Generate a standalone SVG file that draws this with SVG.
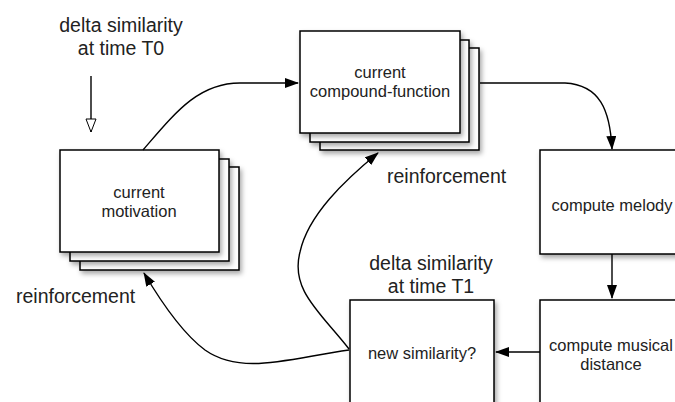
<svg xmlns="http://www.w3.org/2000/svg" width="675" height="402" viewBox="0 0 675 402">
<defs>
<filter id="sh" x="-20%" y="-20%" width="150%" height="150%">
<feDropShadow dx="2" dy="3" stdDeviation="2.5" flood-color="#000" flood-opacity="0.35"/>
</filter>
<marker id="ah" viewBox="0 0 14 10" refX="13" refY="5" markerWidth="14" markerHeight="10" markerUnits="userSpaceOnUse" orient="auto">
<path d="M0,0 L14,5 L0,10 Z" fill="#000"/>
</marker>
<marker id="oh" viewBox="0 0 12 15" refX="6" refY="14" markerWidth="12" markerHeight="15" markerUnits="userSpaceOnUse" orient="0">
<path d="M1,1 L11,1 L6,14 Z" fill="#fff" stroke="#000" stroke-width="1"/>
</marker>
</defs>
<style>
.box{fill:#fff;stroke:#000;stroke-width:1.5;filter:url(#sh)}
.t{font-family:"Liberation Sans",Arial,Helvetica,sans-serif;font-size:16.5px;fill:#222;text-anchor:middle}
.lbl{font-family:"Liberation Sans",Arial,Helvetica,sans-serif;font-size:19.5px;fill:#222}
.c{fill:none;stroke:#000;stroke-width:1.4}
</style>
<rect width="675" height="402" fill="#fff"/>

<g id="label-t0">
<text class="lbl" x="121" y="32" text-anchor="middle">delta similarity</text>
<text class="lbl" x="121" y="55" text-anchor="middle">at time T0</text>
</g>

<g id="motivation">
<rect class="box" x="80" y="167" width="159" height="103"/>
<rect class="box" x="70" y="159" width="159" height="102"/>
<rect class="box" x="60" y="150" width="159" height="102"/>
<text class="t" x="139" y="198">current</text>
<text class="t" x="139" y="217">motivation</text>
</g>

<g id="compound">
<rect class="box" x="320" y="48" width="159" height="102"/>
<rect class="box" x="310" y="40" width="159" height="102"/>
<rect class="box" x="300" y="31" width="160" height="102"/>
<text class="t" x="380" y="78">current</text>
<text class="t" x="380" y="97">compound-function</text>
</g>

<g id="melody">
<rect class="box" x="540" y="150" width="150" height="104"/>
<text class="t" x="612" y="211">compute melody</text>
</g>

<g id="distance">
<rect class="box" x="540" y="300" width="150" height="120"/>
<text class="t" x="611" y="351">compute musical</text>
<text class="t" x="611" y="370">distance</text>
</g>

<g id="similarity">
<rect class="box" x="350" y="300" width="144" height="120"/>
<text class="t" x="422" y="359">new similarity?</text>
</g>

<g id="label-t1">
<text class="lbl" x="431" y="270" text-anchor="middle">delta similarity</text>
<text class="lbl" x="431" y="293" text-anchor="middle">at time T1</text>
</g>

<g id="labels-reinforcement">
<text class="lbl" x="387" y="183">reinforcement</text>
<text class="lbl" x="16" y="303">reinforcement</text>
</g>

<g id="connectors">
<path class="c" d="M91,76 L91,132" marker-end="url(#oh)"/>
<path class="c" d="M143,150 C175,113 198,83 240,83 L298,83" marker-end="url(#ah)"/>
<path class="c" d="M480,83 L565,83 C600,85 610,110 612,149" marker-end="url(#ah)"/>
<path class="c" d="M612,254 L612,298" marker-end="url(#ah)"/>
<path class="c" d="M540,352 L496,352" marker-end="url(#ah)"/>
<path class="c" d="M349,349 C320,312 290,290 300,252 C308,215 345,180 378,153" marker-end="url(#ah)"/>
<path class="c" d="M349,350 C290,358 242,376 205,350 C182,333 160,300 144,273" marker-end="url(#ah)"/>
</g>
</svg>
